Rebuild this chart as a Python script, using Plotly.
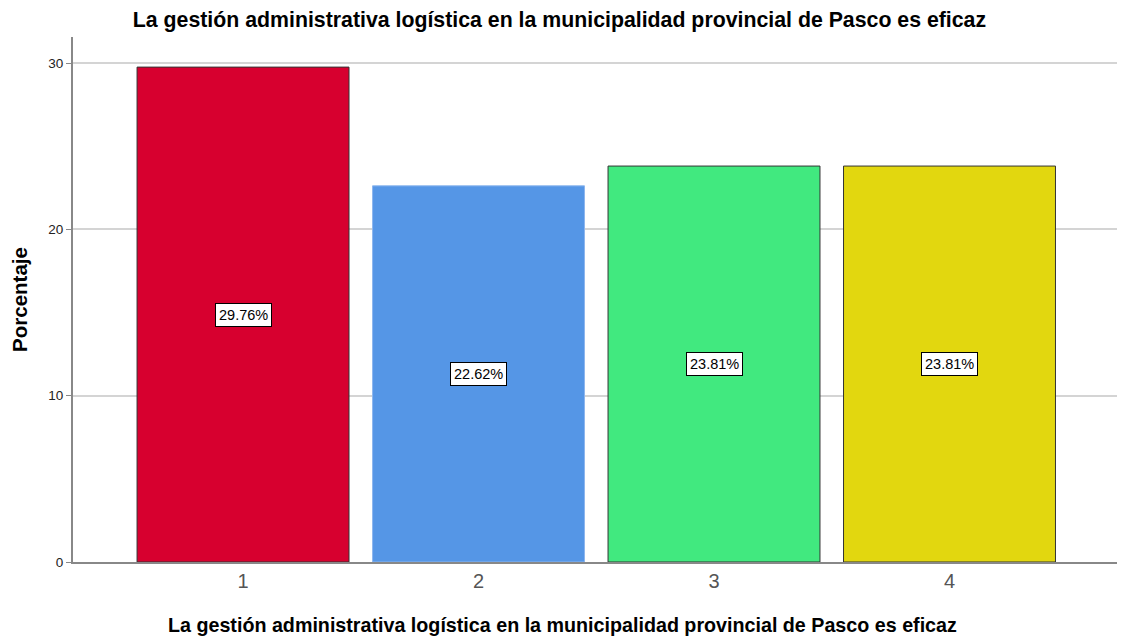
import plotly.graph_objects as go

categorias = ["1", "2", "3", "4"]
porcentajes = [29.76, 22.62, 23.81, 23.81]
colores = ["#D7002F", "#5596E6", "#41E97F", "#E2D70F"]
bordes = ["#333333", "#8DB6EE", "#333333", "#333333"]
titulo = "La gestión administrativa logística en la municipalidad provincial de Pasco es eficaz"

fig = go.Figure()
fig.add_trace(go.Bar(
    x=categorias,
    y=porcentajes,
    width=0.9,
    marker=dict(color=colores, line=dict(color=bordes, width=1)),
    hoverinfo="y",
))

# etiquetas con caja en el centro de cada barra (x por índice de categoría)
for i, v in enumerate(porcentajes):
    fig.add_annotation(
        x=i, y=v / 2, text=f"{v:.2f}%", showarrow=False,
        font=dict(family="Liberation Sans, Arial", size=14.5, color="black"),
        bgcolor="white", bordercolor="black", borderwidth=1, borderpad=3,
    )

# título del eje x como anotación (en el original no está centrado en el área)
fig.add_annotation(
    text="<b>" + titulo + "</b>", xref="paper", yref="paper",
    x=0.468, y=-0.12, xanchor="center", yanchor="middle", showarrow=False,
    font=dict(family="Liberation Sans, Arial", size=19.7, color="black"),
)

# la página tiene 8px de margen en body, así que el tamaño se compensa
fig.update_layout(
    width=1117, height=631,
    margin=dict(l=65, r=5, t=29, b=77),
    plot_bgcolor="white", paper_bgcolor="white",
    font=dict(family="Liberation Sans, Arial", color="black"),
    title=dict(text="<b>" + titulo + "</b>", x=0.4937, xanchor="center",
               y=0.981, yanchor="middle", font=dict(size=21.3)),
    showlegend=False,
)
fig.update_xaxes(
    type="category", range=[-0.722, 3.724], automargin=False,
    showline=True, linecolor="#888888", linewidth=2,
    ticks="", tickfont=dict(size=20, color="#555555"),
)
fig.update_yaxes(
    range=[0, 31.57], tickvals=[0, 10, 20, 30], automargin=False,
    showline=True, linecolor="#888888", linewidth=2,
    showgrid=True, gridcolor="#D4D4D4", gridwidth=2,
    ticks="outside", ticklen=5, tickcolor="#888888",
    tickfont=dict(size=13.5, color="#222222"),
    title=dict(text="<b>Porcentaje</b>", font=dict(size=20.5), standoff=15),
    zeroline=False,
)

fig.write_html("out.html")
